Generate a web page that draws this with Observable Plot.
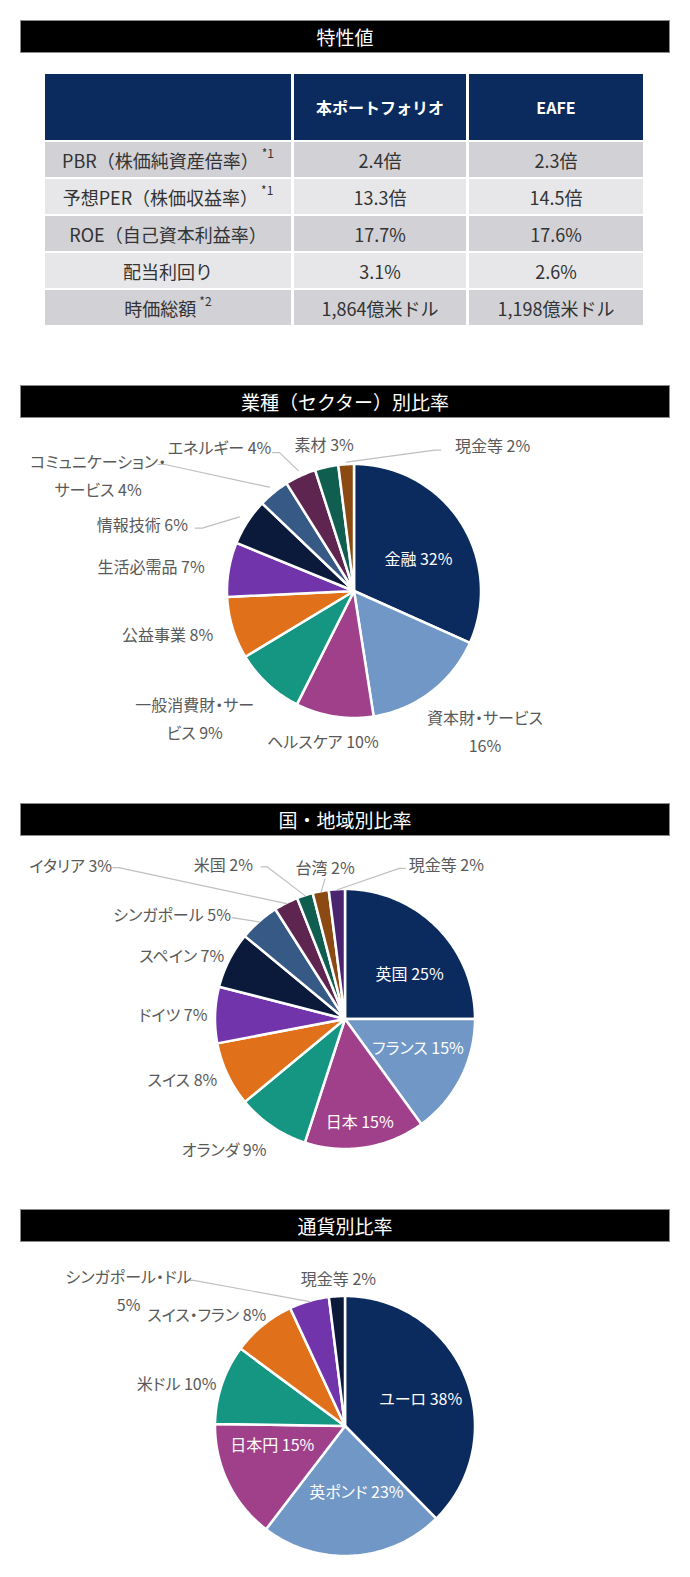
<!DOCTYPE html>
<html lang="ja">
<head>
<meta charset="utf-8">
<script src="https://cdn.jsdelivr.net/npm/d3@7"></script>
<script src="https://cdn.jsdelivr.net/npm/@observablehq/plot@0.6"></script>
<style>
  html, body { margin: 0; padding: 0; background: #fff; }
  body { font-family: "Noto Sans CJK JP", "Noto Sans", sans-serif; }
  #page { position: relative; width: 690px; height: 1577px; overflow: hidden; }
  .bar {
    position: absolute; left: 20px; width: 650px; height: 33px;
    background: #000; color: #fff; font-size: 19px; line-height: 33px;
    text-align: center; box-shadow: inset 0 0 0 1px #8a8a8a;
  }
  #table {
    position: absolute; left: 45px; top: 74px;
    display: grid; grid-template-columns: 246px 172px 174px;
    grid-template-rows: 66px repeat(5, 35px);
    column-gap: 3px; row-gap: 2px;
  }
  .cell {
    display: flex; align-items: center; justify-content: center;
    font-size: 18px; color: #333; white-space: nowrap;
  }
  .head { background: #0b2b5e; color: #fff; font-weight: bold; font-size: 16px; }
  .dark { background: #d1d1d6; }
  .light { background: #e7e7ea; }
  .note { font-size: 12px; position: relative; top: -7px; margin-left: 3px; }
  .pie { position: absolute; left: 0; font-feature-settings: "palt"; }
</style>
</head>
<body>
<div id="page"></div>
<script>
// ---- 特性値 table ----
const tableHeader = ["", "本ポートフォリオ", "EAFE"];
const metricNames = ["PBR（株価純資産倍率）", "予想PER（株価収益率）", "ROE（自己資本利益率）", "配当利回り", "時価総額"];
const metricNotes = ["*1", "*1", "", "", "*2"];
const portfolioValues = ["2.4倍", "13.3倍", "17.7%", "3.1%", "1,864億米ドル"];
const eafeValues = ["2.3倍", "14.5倍", "17.6%", "2.6%", "1,198億米ドル"];

// ---- 業種（セクター）別比率 ----
const sectorNames = ["金融", "資本財・サービス", "ヘルスケア", "一般消費財・サービス", "公益事業", "生活必需品", "情報技術", "コミュニケーション・サービス", "エネルギー", "素材", "現金等"];
const sectorValues = [32, 16, 10, 9, 8, 7, 6, 4, 4, 3, 2];

// ---- 国・地域別比率 ----
const countryNames = ["英国", "フランス", "日本", "オランダ", "スイス", "ドイツ", "スペイン", "シンガポール", "イタリア", "米国", "台湾", "現金等"];
const countryValues = [25, 15, 15, 9, 8, 7, 7, 5, 3, 2, 2, 2];

// ---- 通貨別比率 ----
const currencyNames = ["ユーロ", "英ポンド", "日本円", "米ドル", "スイス・フラン", "シンガポール・ドル", "現金等"];
const currencyValues = [38, 23, 15, 10, 8, 5, 2];

// slice palette
const navy = "#0b2a5e", lightBlue = "#7097c5", magenta = "#a1408a", teal = "#149683",
      orange = "#e07019", purple = "#7234ab", darkNavy = "#0b1a3a", slate = "#365985",
      plum = "#5e2551", darkTeal = "#105e50", brown = "#8a4a12", deepPurple = "#4b2470";
const sectorColors = [navy, lightBlue, magenta, teal, orange, purple, darkNavy, slate, plum, darkTeal, brown];
const countryColors = [navy, lightBlue, magenta, teal, orange, purple, darkNavy, slate, plum, darkTeal, brown, deepPurple];
const currencyColors = [navy, lightBlue, magenta, teal, orange, purple, darkNavy];

const W = 690;
const page = document.getElementById("page");

function addBar(text, top) {
  const d = document.createElement("div");
  d.className = "bar";
  d.style.top = top + "px";
  d.textContent = text;
  page.appendChild(d);
}

// table
function buildTable() {
  const t = document.createElement("div");
  t.id = "table";
  tableHeader.forEach(h => {
    const c = document.createElement("div");
    c.className = "cell head";
    c.textContent = h;
    t.appendChild(c);
  });
  metricNames.forEach((m, i) => {
    const shade = i % 2 === 0 ? "dark" : "light";
    const c0 = document.createElement("div");
    c0.className = "cell " + shade;
    c0.textContent = m;
    if (metricNotes[i]) {
      const s = document.createElement("span");
      s.className = "note";
      s.textContent = metricNotes[i];
      c0.appendChild(s);
    }
    t.appendChild(c0);
    [portfolioValues[i], eafeValues[i]].forEach(v => {
      const c = document.createElement("div");
      c.className = "cell " + shade;
      c.textContent = v;
      t.appendChild(c);
    });
  });
  page.appendChild(t);
}

// wedge outline points (unit radius, angle 0 at 12 o'clock, clockwise)
function wedgeData(names, values) {
  const arcs = d3.pie().sort(null).value(d => d)(values);
  const pts = [];
  arcs.forEach((a, i) => {
    const n = Math.max(2, Math.ceil((a.endAngle - a.startAngle) / (Math.PI / 180)));
    for (let k = 0; k <= n; k++) {
      const t = a.startAngle + (a.endAngle - a.startAngle) * k / n;
      pts.push({name: names[i], x: Math.sin(t), y: -Math.cos(t), cx: 0, cy: 0});
    }
  });
  return {arcs, pts};
}

function polar(angle, r) {
  return [r * Math.sin(angle), -r * Math.cos(angle)];
}

function wrapText(s, n) {
  if (!n) return s;
  return s.slice(0, n) + "\n" + s.slice(n).trim();
}

function drawPie({names, values, colors, top, height, cx, cy, R, place, leaders}) {
  const {arcs, pts} = wedgeData(names, values);
  const labels = arcs.map((a, i) => {
    const name = names[i];
    const p = place[name];
    const mid = (a.startAngle + a.endAngle) / 2;
    const [ux, uy] = polar(mid, p.r);
    return {
      name,
      text: wrapText(`${name} ${values[i]}%`, p.wrap),
      x: ux + p.dx / R,
      y: uy + p.dy / R,
      inside: p.r < 1,
      mid
    };
  });
  const leaderPts = [];
  labels.forEach(l => {
    const ld = leaders[l.name];
    if (!ld) return;
    const sx = l.x + ld.from[0] / R, sy = l.y + ld.from[1] / R;
    const [ex, ey] = polar(l.mid, ld.r);
    leaderPts.push({name: l.name, x: sx, y: sy});
    if (ld.elbow) leaderPts.push({name: l.name, x: sx + Math.sign(ex - sx) * ld.elbow / R, y: sy});
    leaderPts.push({name: l.name, x: ex, y: ey});
  });

  const plot = Plot.plot({
    width: W,
    height,
    margin: 0,
    x: {domain: [-cx / R, (W - cx) / R], range: [0, W], axis: null},
    y: {domain: [-cy / R, (height - cy) / R], range: [0, height], axis: null},
    color: {domain: names, range: colors},
    style: {fontFamily: '"Noto Sans CJK JP", "Noto Sans", sans-serif', background: "transparent", overflow: "visible"},
    marks: [
      Plot.area(pts, {x1: "cx", y1: "cy", x2: "x", y2: "y", z: "name", fill: "name", stroke: "#fff", strokeWidth: 2.5, strokeLinejoin: "round"}),
      Plot.line(leaderPts, {x: "x", y: "y", z: "name", stroke: "#bfbfbf", strokeWidth: 1.2}),
      Plot.text(labels.filter(d => !d.inside), {x: "x", y: "y", text: "text", fill: "#595959", fontSize: 16, lineHeight: 1.75}),
      Plot.text(labels.filter(d => d.inside), {x: "x", y: "y", text: "text", fill: "#ffffff", fontSize: 16})
    ]
  });
  plot.classList.add("pie");
  plot.style.top = top + "px";
  page.appendChild(plot);
}

addBar("特性値", 20);
buildTable();

addBar("業種（セクター）別比率", 385);
drawPie({
  names: sectorNames, values: sectorValues, colors: sectorColors,
  top: 418, height: 380, cx: 354, cy: 173, R: 127,
  place: {
    "金融": {r: 0.6, dx: 0, dy: 10},
    "資本財・サービス": {r: 1.25, dx: 34, dy: 11, wrap: 8},
    "ヘルスケア": {r: 1.25, dx: -7, dy: -9},
    "一般消費財・サービス": {r: 1.25, dx: -52, dy: 8, wrap: 8},
    "公益事業": {r: 1.25, dx: -35, dy: -6},
    "生活必需品": {r: 1.25, dx: -47, dy: 0},
    "情報技術": {r: 1.25, dx: -79, dy: 17},
    "コミュニケーション・サービス": {r: 1.25, dx: -156, dy: 5, wrap: 10},
    "エネルギー": {r: 1.25, dx: -68, dy: -3},
    "素材": {r: 1.25, dx: 4, dy: 6},
    "現金等": {r: 1.25, dx: 148, dy: 10}
  },
  leaders: {
    "情報技術": {from: [53, 6], r: 1.08, elbow: 7},
    "コミュニケーション・サービス": {from: [60, -9], r: 1.06, elbow: 7},
    "エネルギー": {from: [53, 8], r: 1.05, elbow: 7},
    "現金等": {from: [-52, 7], r: 1.02, elbow: 6}
  }
});

addBar("国・地域別比率", 803);
drawPie({
  names: countryNames, values: countryValues, colors: countryColors,
  top: 836, height: 370, cx: 345, cy: 183, R: 130,
  place: {
    "英国": {r: 0.6, dx: 9, dy: 11},
    "フランス": {r: 0.6, dx: 3, dy: -6},
    "日本": {r: 0.6, dx: 2, dy: 26},
    "オランダ": {r: 1.25, dx: -30, dy: -7},
    "スイス": {r: 1.25, dx: -16, dy: -12},
    "ドイツ": {r: 1.25, dx: -10, dy: -2},
    "スペイン": {r: 1.25, dx: -19, dy: 7},
    "シンガポール": {r: 1.25, dx: -66, dy: 14},
    "イタリア": {r: 1.25, dx: -201, dy: -12},
    "米国": {r: 1.25, dx: -72, dy: -3},
    "台湾": {r: 1.25, dx: 10, dy: 5},
    "現金等": {r: 1.25, dx: 111, dy: 5}
  },
  leaders: {
    "シンガポール": {from: [60, 6], r: 1.0, elbow: 0},
    "イタリア": {from: [42, 5], r: 1.0, elbow: 6},
    "米国": {from: [38, 5], r: 1.0, elbow: 6},
    "台湾": {from: [0, 14], r: 1.0, elbow: 0},
    "現金等": {from: [-41, 6], r: 1.0, elbow: 6}
  }
});

addBar("通貨別比率", 1209);
drawPie({
  names: currencyNames, values: currencyValues, colors: currencyColors,
  top: 1242, height: 335, cx: 345, cy: 184, R: 130,
  place: {
    "ユーロ": {r: 0.6, dx: 3, dy: 3},
    "英ポンド": {r: 0.6, dx: 6, dy: -11},
    "日本円": {r: 0.6, dx: -3, dy: -15},
    "米ドル": {r: 1.25, dx: -15, dy: 7},
    "スイス・フラン": {r: 1.25, dx: -36, dy: 11},
    "シンガポール・ドル": {r: 1.25, dx: -172, dy: 18, wrap: 9},
    "現金等": {r: 1.25, dx: 3, dy: 12}
  },
  leaders: {
    "シンガポール・ドル": {from: [59, -8], r: 1.0, elbow: 6}
  }
});
</script>
</body>
</html>
